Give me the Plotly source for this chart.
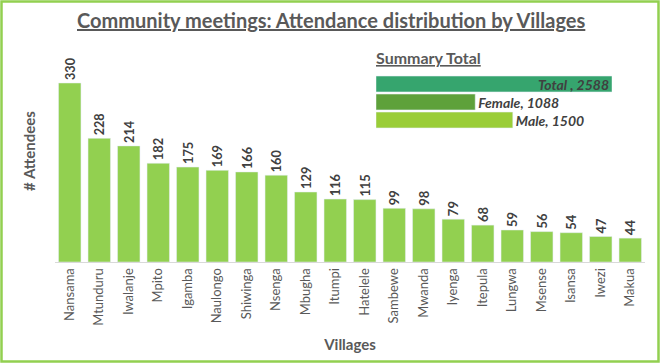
import plotly.graph_objects as go

villages = ["Nansama", "Mtunduru", "Iwalanje", "Mpito", "Igamba", "Naulongo", "Shiwinga",
            "Nsenga", "Mbugha", "Itumpi", "Hatelele", "Sambewe", "Mwanda", "Iyenga",
            "Itepula", "Lungwa", "Msense", "Isansa", "Iwezi", "Makua"]
attendees = [330, 228, 214, 182, 175, 169, 166, 160, 129, 116, 115, 99, 98, 79, 68, 59, 56, 54, 47, 44]

summary_labels = ["Male", "Female", "Total"]
summary_values = [1500, 1088, 2588]
summary_colors = ["#9ACD38", "#5EA13A", "#36A56E"]
summary_text = ["Male, 1500", "Female, 1088", "Total , 2588"]

W, H = 660, 363
ml, mr, mt, mb = 55, 15, 40, 101
pw, ph = W - ml - mr, H - mt - mb

def px(x):
    return (x - ml) / pw

def py(y):
    return (H - mb - y) / ph

FONT = "Lato, Carlito, Calibri, sans-serif"
DARK = "#404040"

fig = go.Figure()
fig.add_trace(go.Bar(
    x=villages, y=attendees, marker_color="#92D050",
    text=[str(v) for v in attendees], textposition="outside", textangle=-90,
    textfont=dict(family=FONT, size=13, color=DARK, weight="bold"),
    cliponaxis=False, xaxis="x", yaxis="y", showlegend=False,
))

fig.add_trace(go.Bar(
    y=summary_labels, x=summary_values, orientation="h",
    marker=dict(color=summary_colors),
    text=["<i><b>%s</b></i>" % t for t in summary_text],
    textposition=["outside", "outside", "inside"], insidetextanchor="end",
    constraintext="none", textangle=0,
    textfont=dict(family=FONT, size=14, color=DARK),
    insidetextfont=dict(family=FONT, size=14, color=DARK),
    cliponaxis=False, xaxis="x2", yaxis="y2", showlegend=False, width=0.88,
))

fig.update_layout(
    width=W, height=H,
    margin=dict(l=ml, r=mr, t=mt, b=mb, autoexpand=False),
    paper_bgcolor="white", plot_bgcolor="white",
    bargap=0.24,
    font=dict(family=FONT, color="#595959"),
    xaxis=dict(showline=True, linecolor="#D9D9D9", linewidth=1, tickangle=-90,
               tickfont=dict(size=13, color="#595959"), ticks="", automargin=False,
               title=dict(text="<b>Villages</b>", font=dict(size=15, color="#595959"), standoff=14)),
    yaxis=dict(range=[0, ph / (179 / 330)], showgrid=False, showticklabels=False,
               zeroline=False, automargin=False,
               title=dict(text="<b># Attendees</b>", font=dict(size=15, color="#595959"), standoff=14)),
    xaxis2=dict(domain=[px(376), px(612)], range=[0, 2588], anchor="y2", visible=False),
    yaxis2=dict(domain=[py(129), py(75)], anchor="x2", visible=False, range=[-0.5, 2.5]),
    uniformtext=dict(mode=False),
)

fig.add_annotation(text="<b><u>Community meetings: Attendance distribution by Villages</u></b>",
                   xref="paper", yref="paper", x=px(331), y=py(20), showarrow=False,
                   font=dict(family=FONT, size=20, color="#595959"), xanchor="center", yanchor="middle")
fig.add_annotation(text="<b><u>Summary Total</u></b>",
                   xref="paper", yref="paper", x=px(374), y=py(58), showarrow=False,
                   font=dict(family=FONT, size=16, color="#595959"), xanchor="left", yanchor="middle")

fig.add_shape(type="rect", xref="paper", yref="paper",
              x0=px(1.5), x1=px(658.5), y0=py(361.5), y1=py(1.5),
              line=dict(color="#92D050", width=2.5), fillcolor="rgba(0,0,0,0)")

fig.write_html("out.html", config={"displayModeBar": False},
               post_script="document.body.style.margin='0';document.body.style.padding='0';")
